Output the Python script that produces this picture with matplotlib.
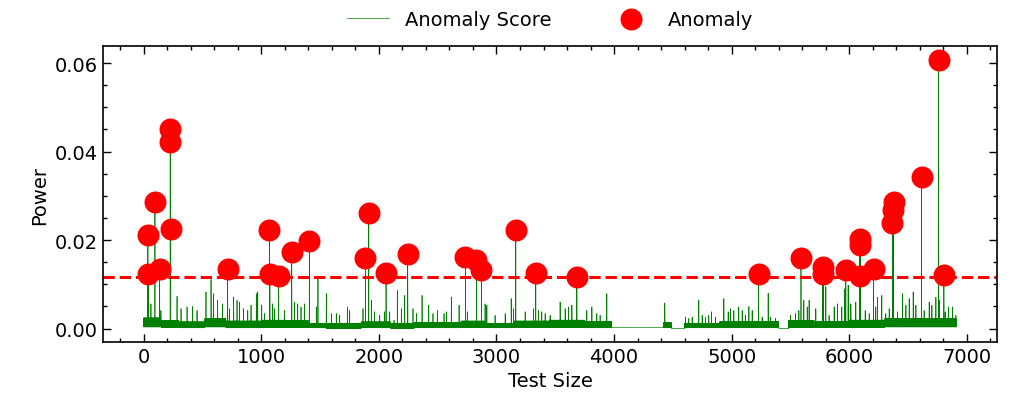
import numpy as np
import matplotlib
matplotlib.use("Agg")
import matplotlib.pyplot as plt
from matplotlib.ticker import AutoMinorLocator, MultipleLocator

# number of test samples
n_test = 6910
threshold = 0.0117

# anomalies (index, score)
anom_idx = [36, 40, 96, 136, 226, 228, 230, 714, 1070, 1073, 1148, 1259, 1409,
            1886, 1914, 2061, 2245, 2736, 2830, 2872, 3164, 3334, 3683,
            5228, 5589, 5775, 5778, 5970, 6090, 6092, 6094, 6206,
            6367, 6373, 6376, 6614, 6759, 6804]
anom_val = [0.0211, 0.0124, 0.0286, 0.0135, 0.0450, 0.0421, 0.0225, 0.0134, 0.0223, 0.0123,
            0.0120, 0.0174, 0.0198, 0.0159, 0.0262, 0.0126, 0.0169, 0.0161, 0.0156,
            0.0133, 0.0223, 0.0126, 0.0116, 0.0123, 0.0160, 0.0139, 0.0123, 0.0133,
            0.0203, 0.0188, 0.0119, 0.0135, 0.0239, 0.0267, 0.0286, 0.0342, 0.0608, 0.0122]

# smaller spikes of the score below the threshold
spike_idx = [62, 147, 284, 318, 369, 417, 454, 530, 573, 595, 629, 672, 729, 765, 794,
             814, 850, 885, 913, 958, 970, 1004, 1026, 1097, 1111, 1196, 1281, 1310,
             1338, 1366, 1468, 1482, 1553, 1596, 1638, 1667, 1732, 1752, 1865, 1936,
             1964, 2007, 2049, 2092, 2129, 2157, 2191, 2220, 2290, 2319, 2367, 2424,
             2460, 2497, 2554, 2574, 2616, 2682, 2752, 2903, 2918, 2988, 3074, 3125,
             3144, 3244, 3314, 3357, 3385, 3414, 3456, 3541, 3584, 3612, 3641, 3768,
             3811, 3853, 3881, 3938, 4431, 4607, 4635, 4664, 4720, 4749, 4777, 4805,
             4828, 4862, 4933, 4970, 4990, 5018, 5060, 5089, 5117, 5146, 5174, 5259,
             5310, 5330, 5372, 5500, 5542, 5571, 5613, 5642, 5658, 5715, 5800, 5828,
             5871, 5899, 5936, 5962, 5990, 6013, 6055, 6135, 6169, 6225, 6240, 6276,
             6310, 6339, 6410, 6452, 6481, 6509, 6543, 6566, 6636, 6679, 6702, 6736,
             6764, 6815, 6843, 6877, 6906]
spike_val = [0.0056, 0.0041, 0.0073, 0.0045, 0.0049, 0.0050, 0.0041, 0.0083, 0.0111, 0.0079,
             0.0064, 0.0056, 0.0045, 0.0071, 0.0064, 0.0060, 0.0045, 0.0041, 0.0053, 0.0079,
             0.0083, 0.0053, 0.0034, 0.0056, 0.0045, 0.0041, 0.0060, 0.0056, 0.0049, 0.0056,
             0.0049, 0.0113, 0.0079, 0.0034, 0.0034, 0.0030, 0.0049, 0.0041, 0.0045, 0.0064,
             0.0038, 0.0030, 0.0038, 0.0038, 0.0019, 0.0086, 0.0045, 0.0075, 0.0045, 0.0034,
             0.0075, 0.0053, 0.0034, 0.0041, 0.0034, 0.0038, 0.0071, 0.0053, 0.0038, 0.0056,
             0.0053, 0.0030, 0.0034, 0.0068, 0.0045, 0.0038, 0.0045, 0.0041, 0.0038, 0.0034,
             0.0030, 0.0060, 0.0045, 0.0049, 0.0053, 0.0041, 0.0049, 0.0034, 0.0030, 0.0079,
             0.0058, 0.0026, 0.0023, 0.0026, 0.0064, 0.0030, 0.0026, 0.0030, 0.0038, 0.0026,
             0.0068, 0.0038, 0.0045, 0.0041, 0.0049, 0.0041, 0.0030, 0.0050, 0.0041, 0.0026,
             0.0080, 0.0026, 0.0023, 0.0030, 0.0034, 0.0041, 0.0064, 0.0049, 0.0064, 0.0045,
             0.0095, 0.0030, 0.0049, 0.0056, 0.0049, 0.0090, 0.0098, 0.0056, 0.0060, 0.0041,
             0.0034, 0.0049, 0.0071, 0.0075, 0.0034, 0.0045, 0.0038, 0.0079, 0.0053, 0.0068,
             0.0083, 0.0053, 0.0041, 0.0060, 0.0053, 0.0071, 0.0064, 0.0038, 0.0049, 0.0049,
             0.0030]

# dense background of the score per stretch: start, end, upper level, lower level
seg_start = [0, 150, 300, 520, 700, 1000, 1200, 1400, 1550, 1850, 2100, 2300, 2700, 2900,
             3150, 3450, 3750, 3980, 4420, 4490, 4600, 4900, 5400, 5485, 5700, 6000, 6300]
seg_end = [150, 300, 520, 700, 1000, 1200, 1400, 1550, 1850, 2100, 2300, 2700, 2900, 3150,
           3450, 3750, 3980, 4420, 4490, 4600, 4900, 5400, 5485, 5700, 6000, 6300, 6910]
seg_top = [0.0024, 0.0018, 0.0015, 0.0022, 0.0017, 0.0019, 0.0018, 0.0012, 0.0011, 0.0015,
           0.0011, 0.0013, 0.0017, 0.0012, 0.0017, 0.0019, 0.0016, 0.0003, 0.0013, 0.0,
           0.0012, 0.0016, 0.0, 0.0018, 0.0016, 0.0019, 0.0022]
seg_low = [0.0004, 0.0003, 0.0002, 0.0004, 0.0002, 0.0003, 0.0003, 0.0002, 0.0001, 0.0002,
           0.0001, 0.0002, 0.0003, 0.0002, 0.0003, 0.0003, 0.0002, 0.0003, 0.0002, 0.0,
           0.0002, 0.0002, 0.0, 0.0003, 0.0003, 0.0003, 0.0004]

score = np.zeros(n_test)
for a, b, top, low in zip(seg_start, seg_end, seg_top, seg_low):
    score[a:b:2] = top
    score[a + 1:b:2] = low
score[spike_idx] = spike_val
score[anom_idx] = anom_val

plt.rcParams['font.family'] = ['DejaVu Sans']
plt.rcParams['font.size'] = 14

fig = plt.figure(figsize=(10.1, 4.06), dpi=100)
ax = fig.add_axes([0.102, 0.155, 0.885, 0.729])

ax.plot(np.arange(n_test), score, color='green', lw=0.5, label='Anomaly Score')
ax.scatter(anom_idx, anom_val, s=220, color='red', zorder=3, label='Anomaly')
ax.axhline(threshold, color='red', ls='--', lw=2.2, zorder=2)

ax.set_xlabel('Test Size')
ax.set_ylabel('Power')
ax.xaxis.set_major_locator(MultipleLocator(1000))
ax.yaxis.set_major_locator(MultipleLocator(0.02))
ax.xaxis.set_minor_locator(AutoMinorLocator(5))
ax.yaxis.set_minor_locator(AutoMinorLocator(4))
ax.tick_params(which='both', direction='in', top=True, right=True, width=1.0)
ax.tick_params(which='major', length=6)
ax.tick_params(which='minor', length=3)
for s in ax.spines.values():
    s.set_linewidth(1.2)

ax.legend(loc='lower center', bbox_to_anchor=(0.5, 1.0), ncol=2, frameon=False,
          columnspacing=3.0, handlelength=2.2)

fig.savefig('out.png', dpi=100)
